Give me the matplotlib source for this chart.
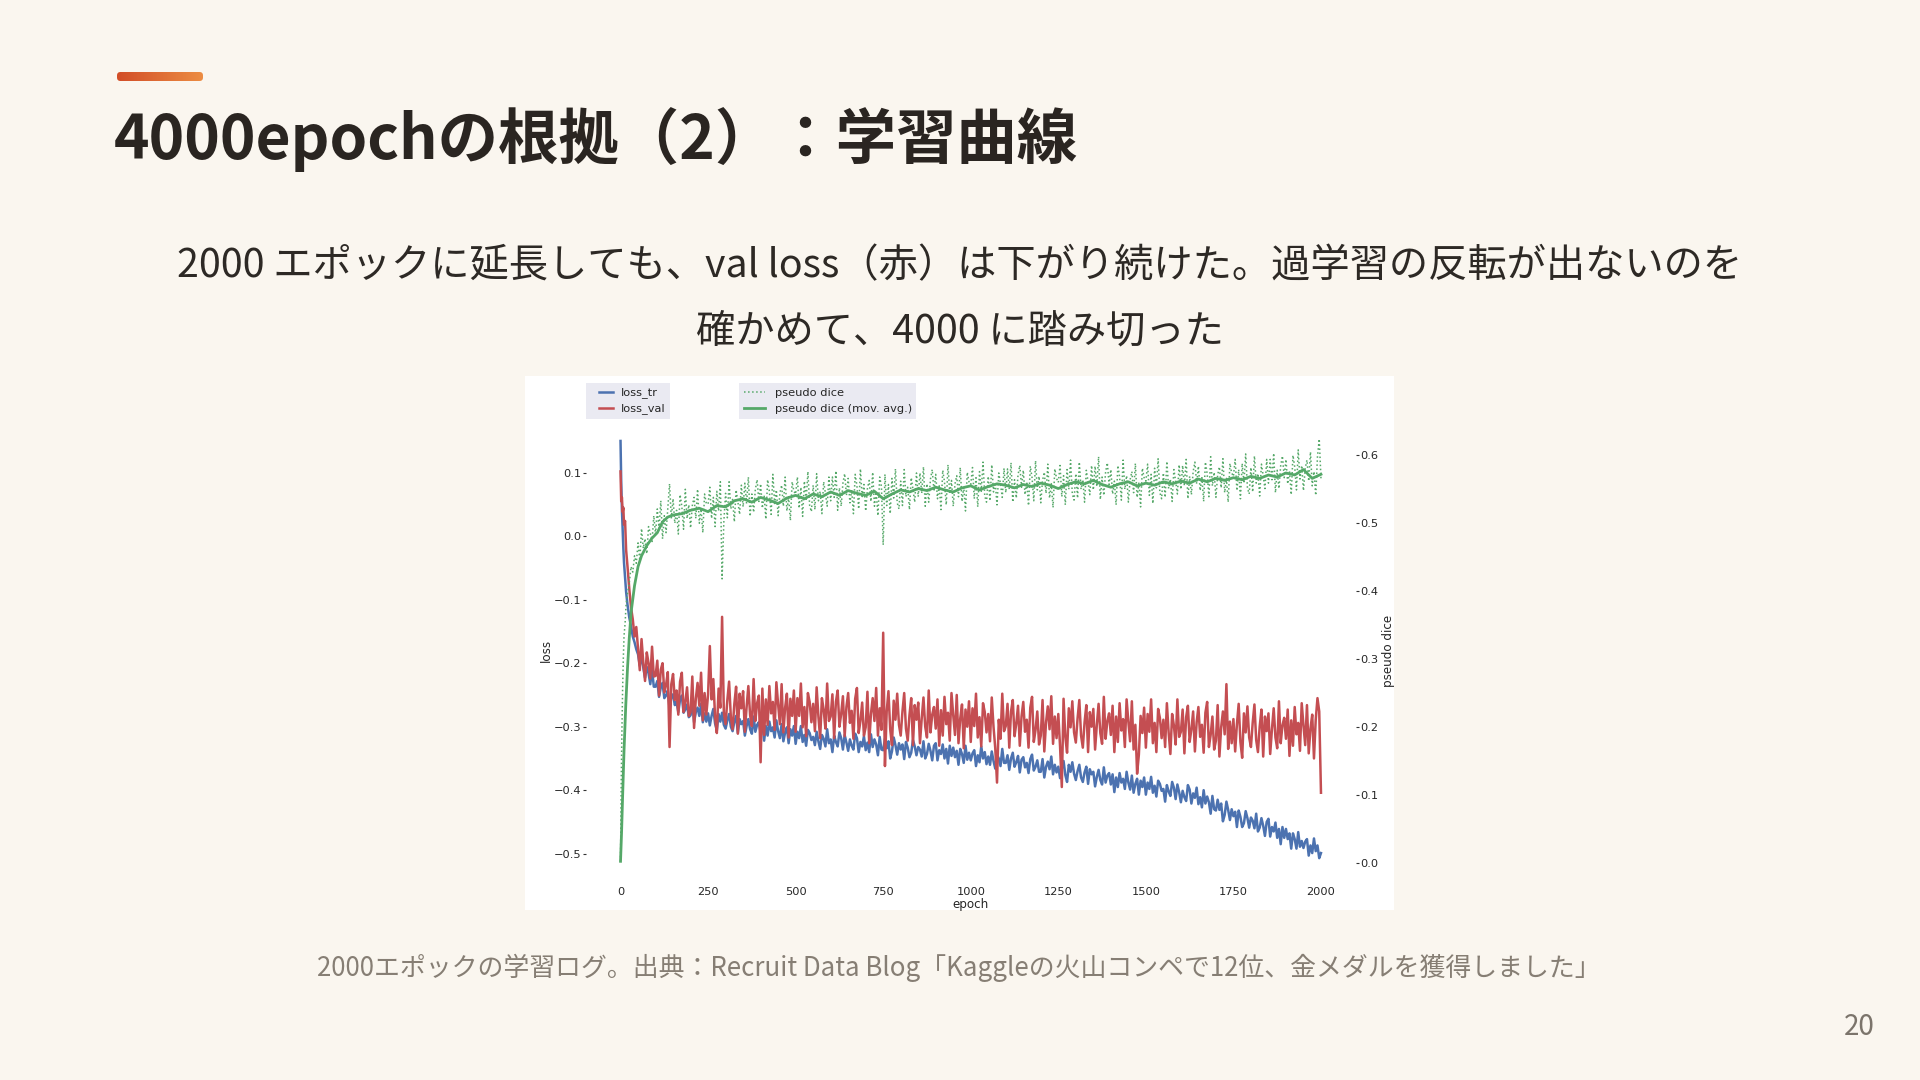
import matplotlib.pyplot as plt
from matplotlib.patches import Rectangle, FancyBboxPatch
from matplotlib.colors import LinearSegmentedColormap
import numpy as np

# ---- data (every 5 epochs after epoch 45) ----
epochs = [0, 2, 4, 6, 8, 10, 13, 16, 20, 25, 30, 35, 40, 45] + list(range(50, 2001, 5))

loss_tr = [
    0.150, 0.085, 0.042, 0.012, -0.018, -0.042, -0.066, -0.088, -0.108, -0.128, -0.142, -0.158, -0.167, -0.178,
    -0.186, -0.204, -0.187, -0.207, -0.223, -0.206, -0.216, -0.233, -0.210, -0.237,
    -0.237, -0.228, -0.253, -0.238, -0.231, -0.255, -0.251, -0.243, -0.271, -0.254,
    -0.249, -0.266, -0.261, -0.277, -0.257, -0.251, -0.278, -0.273, -0.265, -0.285,
    -0.282, -0.263, -0.293, -0.277, -0.270, -0.283, -0.264, -0.293, -0.279, -0.292,
    -0.279, -0.298, -0.283, -0.272, -0.295, -0.306, -0.280, -0.292, -0.278, -0.297,
    -0.303, -0.290, -0.280, -0.300, -0.307, -0.292, -0.283, -0.310, -0.288, -0.296,
    -0.291, -0.314, -0.299, -0.288, -0.304, -0.311, -0.284, -0.308, -0.297, -0.293,
    -0.310, -0.294, -0.322, -0.299, -0.314, -0.292, -0.307, -0.301, -0.317, -0.290,
    -0.307, -0.318, -0.296, -0.323, -0.309, -0.301, -0.326, -0.304, -0.314, -0.299,
    -0.327, -0.308, -0.318, -0.299, -0.324, -0.313, -0.330, -0.305, -0.310, -0.321,
    -0.316, -0.329, -0.308, -0.323, -0.335, -0.313, -0.319, -0.331, -0.304, -0.326,
    -0.320, -0.340, -0.314, -0.324, -0.331, -0.309, -0.318, -0.336, -0.313, -0.325,
    -0.338, -0.320, -0.330, -0.336, -0.311, -0.318, -0.340, -0.324, -0.331, -0.315,
    -0.337, -0.325, -0.340, -0.312, -0.332, -0.320, -0.328, -0.345, -0.316, -0.336,
    -0.337, -0.319, -0.334, -0.323, -0.350, -0.339, -0.317, -0.329, -0.344, -0.326,
    -0.336, -0.328, -0.351, -0.324, -0.333, -0.348, -0.341, -0.321, -0.331, -0.345,
    -0.332, -0.336, -0.347, -0.323, -0.350, -0.343, -0.327, -0.338, -0.353, -0.330,
    -0.326, -0.353, -0.337, -0.343, -0.328, -0.350, -0.335, -0.358, -0.330, -0.346,
    -0.333, -0.348, -0.338, -0.360, -0.335, -0.343, -0.357, -0.330, -0.352, -0.341,
    -0.353, -0.342, -0.337, -0.362, -0.345, -0.356, -0.331, -0.350, -0.340, -0.359,
    -0.347, -0.360, -0.339, -0.354, -0.366, -0.344, -0.350, -0.362, -0.335, -0.357,
    -0.357, -0.345, -0.368, -0.350, -0.341, -0.363, -0.356, -0.346, -0.372, -0.352,
    -0.348, -0.364, -0.357, -0.373, -0.351, -0.344, -0.369, -0.363, -0.353, -0.371,
    -0.371, -0.351, -0.380, -0.363, -0.355, -0.367, -0.347, -0.375, -0.360, -0.372,
    -0.363, -0.381, -0.366, -0.354, -0.376, -0.387, -0.360, -0.371, -0.356, -0.374,
    -0.384, -0.370, -0.360, -0.380, -0.387, -0.372, -0.363, -0.390, -0.367, -0.375,
    -0.371, -0.394, -0.379, -0.368, -0.384, -0.391, -0.364, -0.388, -0.377, -0.373,
    -0.391, -0.375, -0.403, -0.380, -0.395, -0.373, -0.388, -0.382, -0.398, -0.371,
    -0.388, -0.399, -0.377, -0.404, -0.390, -0.382, -0.407, -0.385, -0.395, -0.380,
    -0.407, -0.388, -0.398, -0.379, -0.404, -0.393, -0.410, -0.385, -0.390, -0.401,
    -0.398, -0.418, -0.392, -0.402, -0.409, -0.387, -0.396, -0.414, -0.391, -0.403,
    -0.419, -0.401, -0.411, -0.417, -0.392, -0.399, -0.421, -0.405, -0.412, -0.396,
    -0.422, -0.411, -0.427, -0.400, -0.421, -0.410, -0.419, -0.437, -0.409, -0.430,
    -0.432, -0.415, -0.431, -0.421, -0.449, -0.439, -0.418, -0.431, -0.447, -0.430,
    -0.441, -0.434, -0.458, -0.432, -0.442, -0.458, -0.452, -0.433, -0.444, -0.459,
    -0.443, -0.448, -0.460, -0.437, -0.465, -0.459, -0.444, -0.456, -0.472, -0.450,
    -0.445, -0.473, -0.458, -0.465, -0.451, -0.475, -0.461, -0.485, -0.458, -0.475,
    -0.461, -0.477, -0.468, -0.492, -0.468, -0.477, -0.492, -0.466, -0.489, -0.480,
    -0.491, -0.481, -0.477, -0.503, -0.487, -0.499, -0.476, -0.496, -0.487, -0.507,
    -0.499,
]

loss_val = [
    0.102, 0.055, 0.061, 0.038, 0.045, 0.018, 0.024, -0.022, -0.048, -0.083, -0.112, -0.131, -0.158, -0.143,
    -0.176, -0.211, -0.162, -0.199, -0.228, -0.183, -0.200, -0.224, -0.174, -0.221,
    -0.220, -0.196, -0.251, -0.210, -0.200, -0.246, -0.234, -0.214, -0.332, -0.233,
    -0.217, -0.258, -0.243, -0.281, -0.229, -0.215, -0.277, -0.261, -0.238, -0.283,
    -0.277, -0.221, -0.302, -0.256, -0.231, -0.267, -0.215, -0.290, -0.247, -0.281,
    -0.249, -0.173, -0.257, -0.225, -0.285, -0.310, -0.240, -0.270, -0.127, -0.278,
    -0.296, -0.258, -0.229, -0.285, -0.304, -0.264, -0.237, -0.311, -0.248, -0.271,
    -0.244, -0.308, -0.269, -0.236, -0.282, -0.299, -0.225, -0.291, -0.263, -0.251,
    -0.356, -0.240, -0.313, -0.257, -0.297, -0.236, -0.279, -0.261, -0.305, -0.230,
    -0.265, -0.296, -0.233, -0.309, -0.270, -0.248, -0.317, -0.256, -0.283, -0.243,
    -0.308, -0.255, -0.283, -0.232, -0.301, -0.269, -0.315, -0.247, -0.261, -0.293,
    -0.264, -0.307, -0.238, -0.284, -0.318, -0.255, -0.273, -0.303, -0.232, -0.291,
    -0.284, -0.249, -0.318, -0.261, -0.243, -0.300, -0.280, -0.252, -0.315, -0.269,
    -0.247, -0.294, -0.275, -0.319, -0.256, -0.239, -0.310, -0.291, -0.262, -0.314,
    -0.301, -0.245, -0.326, -0.280, -0.255, -0.291, -0.239, -0.314, -0.271, -0.305,
    -0.152, -0.362, -0.276, -0.244, -0.304, -0.329, -0.259, -0.289, -0.248, -0.297,
    -0.314, -0.276, -0.247, -0.303, -0.322, -0.282, -0.255, -0.329, -0.266, -0.289,
    -0.262, -0.326, -0.287, -0.254, -0.300, -0.317, -0.243, -0.309, -0.281, -0.269,
    -0.303, -0.257, -0.330, -0.274, -0.314, -0.253, -0.296, -0.278, -0.322, -0.247,
    -0.282, -0.313, -0.250, -0.326, -0.287, -0.265, -0.334, -0.273, -0.300, -0.260,
    -0.324, -0.271, -0.299, -0.248, -0.317, -0.285, -0.331, -0.263, -0.277, -0.309,
    -0.280, -0.323, -0.254, -0.300, -0.334, -0.388, -0.289, -0.319, -0.248, -0.307,
    -0.299, -0.264, -0.333, -0.276, -0.258, -0.315, -0.295, -0.267, -0.330, -0.284,
    -0.261, -0.308, -0.289, -0.333, -0.270, -0.253, -0.324, -0.305, -0.276, -0.328,
    -0.314, -0.258, -0.339, -0.293, -0.268, -0.304, -0.252, -0.327, -0.284, -0.318,
    -0.280, -0.331, -0.395, -0.256, -0.316, -0.341, -0.271, -0.301, -0.260, -0.309,
    -0.325, -0.287, -0.258, -0.314, -0.333, -0.293, -0.266, -0.340, -0.277, -0.300,
    -0.272, -0.336, -0.297, -0.264, -0.310, -0.327, -0.253, -0.319, -0.291, -0.279,
    -0.313, -0.267, -0.340, -0.284, -0.324, -0.263, -0.306, -0.288, -0.332, -0.257,
    -0.292, -0.323, -0.260, -0.336, -0.297, -0.374, -0.344, -0.283, -0.310, -0.270,
    -0.333, -0.280, -0.308, -0.257, -0.326, -0.294, -0.340, -0.272, -0.286, -0.318,
    -0.289, -0.332, -0.263, -0.309, -0.343, -0.280, -0.298, -0.328, -0.257, -0.316,
    -0.308, -0.273, -0.342, -0.285, -0.267, -0.324, -0.304, -0.276, -0.339, -0.293,
    -0.269, -0.316, -0.297, -0.341, -0.278, -0.261, -0.332, -0.313, -0.284, -0.336,
    -0.322, -0.266, -0.347, -0.301, -0.276, -0.312, -0.233, -0.335, -0.292, -0.326,
    -0.288, -0.339, -0.296, -0.264, -0.324, -0.349, -0.279, -0.309, -0.268, -0.317,
    -0.332, -0.294, -0.265, -0.321, -0.340, -0.300, -0.273, -0.347, -0.284, -0.307,
    -0.279, -0.343, -0.304, -0.271, -0.317, -0.334, -0.260, -0.326, -0.298, -0.286,
    -0.319, -0.273, -0.346, -0.290, -0.330, -0.269, -0.312, -0.294, -0.338, -0.263,
    -0.298, -0.329, -0.266, -0.342, -0.303, -0.281, -0.350, -0.289, -0.255, -0.276,
    -0.404,
]

pseudo_dice = [
    0.002, 0.118, 0.196, 0.257, 0.301, 0.334, 0.352, 0.381, 0.397, 0.412, 0.436, 0.428, 0.452, 0.441,
    0.471, 0.445, 0.492, 0.463, 0.477, 0.455, 0.495, 0.485, 0.473, 0.511,
    0.484, 0.521, 0.492, 0.533, 0.477, 0.511, 0.486, 0.522, 0.558, 0.507,
    0.536, 0.500, 0.519, 0.484, 0.542, 0.525, 0.491, 0.550, 0.507, 0.527,
    0.493, 0.526, 0.538, 0.507, 0.550, 0.500, 0.521, 0.486, 0.543, 0.529,
    0.528, 0.553, 0.507, 0.538, 0.495, 0.547, 0.518, 0.561, 0.418, 0.502,
    0.544, 0.508, 0.561, 0.521, 0.535, 0.502, 0.549, 0.532, 0.513, 0.556,
    0.524, 0.559, 0.529, 0.568, 0.510, 0.543, 0.516, 0.550, 0.564, 0.532,
    0.558, 0.522, 0.541, 0.506, 0.564, 0.547, 0.513, 0.572, 0.529, 0.549,
    0.511, 0.544, 0.556, 0.525, 0.568, 0.518, 0.539, 0.504, 0.561, 0.547,
    0.543, 0.568, 0.522, 0.553, 0.510, 0.562, 0.533, 0.576, 0.526, 0.517,
    0.556, 0.520, 0.573, 0.533, 0.547, 0.514, 0.561, 0.544, 0.525, 0.568,
    0.533, 0.568, 0.538, 0.577, 0.519, 0.552, 0.525, 0.559, 0.573, 0.541,
    0.566, 0.530, 0.549, 0.514, 0.572, 0.555, 0.521, 0.580, 0.537, 0.557,
    0.518, 0.551, 0.563, 0.532, 0.575, 0.525, 0.546, 0.511, 0.568, 0.554,
    0.468, 0.572, 0.526, 0.557, 0.514, 0.566, 0.537, 0.580, 0.530, 0.521,
    0.562, 0.526, 0.579, 0.539, 0.553, 0.520, 0.567, 0.550, 0.531, 0.574,
    0.539, 0.574, 0.544, 0.583, 0.525, 0.558, 0.531, 0.565, 0.579, 0.547,
    0.572, 0.536, 0.555, 0.520, 0.578, 0.561, 0.527, 0.586, 0.543, 0.563,
    0.525, 0.558, 0.570, 0.539, 0.582, 0.532, 0.553, 0.518, 0.575, 0.561,
    0.557, 0.582, 0.536, 0.567, 0.524, 0.576, 0.547, 0.590, 0.540, 0.531,
    0.569, 0.533, 0.586, 0.546, 0.560, 0.527, 0.574, 0.557, 0.538, 0.581,
    0.545, 0.580, 0.550, 0.589, 0.531, 0.564, 0.537, 0.571, 0.585, 0.553,
    0.578, 0.542, 0.561, 0.526, 0.584, 0.567, 0.533, 0.592, 0.549, 0.569,
    0.530, 0.563, 0.575, 0.544, 0.587, 0.537, 0.558, 0.523, 0.580, 0.566,
    0.560, 0.585, 0.539, 0.570, 0.527, 0.579, 0.550, 0.593, 0.543, 0.534,
    0.573, 0.537, 0.590, 0.550, 0.564, 0.531, 0.578, 0.561, 0.542, 0.585,
    0.549, 0.584, 0.554, 0.598, 0.535, 0.568, 0.541, 0.575, 0.589, 0.557,
    0.579, 0.543, 0.562, 0.527, 0.585, 0.568, 0.534, 0.593, 0.550, 0.570,
    0.531, 0.564, 0.576, 0.545, 0.588, 0.538, 0.559, 0.524, 0.581, 0.567,
    0.562, 0.587, 0.541, 0.572, 0.529, 0.581, 0.552, 0.595, 0.545, 0.536,
    0.574, 0.538, 0.591, 0.551, 0.565, 0.532, 0.579, 0.562, 0.543, 0.586,
    0.550, 0.585, 0.555, 0.594, 0.536, 0.569, 0.542, 0.576, 0.590, 0.558,
    0.584, 0.548, 0.567, 0.532, 0.590, 0.573, 0.539, 0.598, 0.555, 0.575,
    0.538, 0.571, 0.583, 0.552, 0.595, 0.545, 0.566, 0.531, 0.588, 0.574,
    0.569, 0.594, 0.548, 0.579, 0.536, 0.588, 0.559, 0.602, 0.552, 0.543,
    0.582, 0.546, 0.599, 0.559, 0.573, 0.540, 0.587, 0.570, 0.551, 0.594,
    0.559, 0.594, 0.564, 0.603, 0.545, 0.578, 0.551, 0.585, 0.599, 0.567,
    0.594, 0.558, 0.577, 0.542, 0.600, 0.583, 0.549, 0.608, 0.565, 0.585,
    0.548, 0.581, 0.593, 0.562, 0.605, 0.555, 0.576, 0.541, 0.598, 0.624,
    0.566,
]

mov_epochs = [0, 3, 6, 10, 15, 20, 25, 30, 40, 50, 60, 75, 90, 105, 120, 135, 150] + list(range(175, 2001, 25))
dice_mov_avg = [
    0.002, 0.045, 0.098, 0.165, 0.232, 0.287, 0.331, 0.368, 0.408, 0.436, 0.452, 0.467, 0.478, 0.486, 0.502, 0.509, 0.512,
    0.514, 0.519, 0.522, 0.517, 0.526, 0.524, 0.533, 0.536, 0.531, 0.538,
    0.534, 0.529, 0.537, 0.541, 0.536, 0.543, 0.539, 0.546, 0.541, 0.548,
    0.544, 0.541, 0.547, 0.536, 0.543, 0.549, 0.546, 0.551, 0.548, 0.553,
    0.549, 0.546, 0.552, 0.555, 0.549, 0.554, 0.558, 0.556, 0.552, 0.557,
    0.554, 0.559, 0.556, 0.551, 0.557, 0.561, 0.558, 0.563, 0.557, 0.553,
    0.558, 0.561, 0.555, 0.559, 0.556, 0.561, 0.558, 0.562, 0.559, 0.565,
    0.561, 0.566, 0.563, 0.567, 0.564, 0.569, 0.566, 0.571, 0.568, 0.574,
    0.571, 0.579, 0.566, 0.572,
]

x_ticks = [0, 250, 500, 750, 1000, 1250, 1500, 1750, 2000]
loss_ticks = [-0.5, -0.4, -0.3, -0.2, -0.1, 0.0, 0.1]
dice_ticks = [0.0, 0.1, 0.2, 0.3, 0.4, 0.5, 0.6]

title = "4000epochの根拠（2）：学習曲線"
sub1 = "2000 エポックに延長しても、val loss（赤）は下がり続けた。過学習の反転が出ないのを"
sub2 = "確かめて、4000 に踏み切った"
caption = "2000エポックの学習ログ。出典：Recruit Data Blog「Kaggleの火山コンペで12位、金メダルを獲得しました」"
page = "20"

W, H = 1920, 1080
JP = ['Noto Sans CJK JP', 'DejaVu Sans']
TXT = '#262626'


def fx(px):
    return px / W


def fy(py):
    return 1 - py / H


def main():
    plt.rcParams['font.family'] = ['DejaVu Sans']
    fig = plt.figure(figsize=(19.2, 10.8), dpi=100, facecolor='#faf6ef')

    # accent bar with orange gradient
    axb = fig.add_axes([fx(117), fy(81), fx(86), 9 / H])
    axb.set_xlim(0, 86)
    axb.set_ylim(0, 9)
    axb.axis('off')
    cmap = LinearSegmentedColormap.from_list('bar', ['#d24e28', '#ec8c42'])
    im = axb.imshow(np.linspace(0, 1, 64).reshape(1, -1), extent=(0, 86, 0, 9),
                    aspect='auto', cmap=cmap)
    clip = FancyBboxPatch((0, 0), 86, 9, boxstyle='round,pad=0,rounding_size=3.5',
                          transform=axb.transData, facecolor='none', edgecolor='none')
    axb.add_patch(clip)
    im.set_clip_path(clip)

    fig.text(fx(114), fy(159), title, fontsize=43.5, fontweight='bold', family=JP,
             color='#2a2521', ha='left', va='baseline')
    fig.text(0.5, fy(277), sub1, fontsize=28.3, family=JP, color='#2d2925',
             ha='center', va='baseline')
    fig.text(0.5, fy(342), sub2, fontsize=28.3, family=JP, color='#2d2925',
             ha='center', va='baseline')
    fig.text(fx(959), fy(976), caption, fontsize=18.65, family=JP, color='#867e74',
             ha='center', va='baseline')
    fig.text(fx(1859), fy(1035), page, fontsize=20, family=JP, color='#7b746b',
             ha='center', va='baseline')

    # white card behind the chart
    fig.patches.append(Rectangle((fx(525), fy(910)), fx(869), 534 / H,
                                 transform=fig.transFigure, facecolor='white',
                                 edgecolor='none', zorder=0))

    rect = [fx(585.5), fy(881), fx(770.5), 461 / H]
    dice_lim = (-0.027, 0.652)
    loss_lim = (-0.543, 0.183)

    # background axes: grey face + grid of the dice axis (kept under the curves)
    axg = fig.add_axes(rect, zorder=0)
    axg.set_facecolor('#eaeaf2')
    axg.set_xlim(-100, 2100)
    axg.set_ylim(*dice_lim)
    axg.set_yticks(dice_ticks)
    axg.set_xticks([])
    axg.grid(axis='y', color='white', linewidth=1.0)
    axg.tick_params(left=False, labelleft=False, bottom=False, labelbottom=False)
    for s in axg.spines.values():
        s.set_visible(False)

    ax = fig.add_axes(rect, zorder=1)
    ax.patch.set_visible(False)
    ax.set_axisbelow(True)
    ax.plot(epochs, loss_tr, color='#4c72b0', linewidth=1.8, label='loss_tr')
    ax.plot(epochs, loss_val, color='#c44e52', linewidth=1.8, label='loss_val')
    ax.set_xlim(-100, 2100)
    ax.set_ylim(*loss_lim)
    ax.set_xticks(x_ticks)
    ax.set_yticks(loss_ticks)
    ax.grid(True, color='white', linewidth=1.0)
    ax.tick_params(axis='y', length=2.2, width=0.8, color='#333333', pad=1,
                   labelsize=8.2, labelcolor=TXT)
    ax.tick_params(axis='x', length=0, pad=4.5, labelsize=8.2, labelcolor=TXT)
    ax.set_xlabel('epoch', fontsize=8.6, color=TXT, labelpad=0.5)
    ax.set_ylabel('loss', fontsize=8.6, color=TXT, labelpad=0.5)
    for s in ax.spines.values():
        s.set_visible(False)

    ax2 = ax.twinx()
    ax2.plot(epochs, pseudo_dice, color='#55a868', linestyle=':', linewidth=1.1,
             label='pseudo dice')
    ax2.plot(mov_epochs, dice_mov_avg, color='#55a868', linewidth=2.0,
             label='pseudo dice (mov. avg.)')
    ax2.set_ylim(*dice_lim)
    ax2.set_yticks(dice_ticks)
    ax2.grid(False)
    ax2.tick_params(axis='y', length=2.2, width=0.8, color='#333333', pad=1,
                    labelsize=8.2, labelcolor=TXT)
    ax2.set_ylabel('pseudo dice', fontsize=8.6, color=TXT, labelpad=2.5)
    for s in ax2.spines.values():
        s.set_visible(False)

    # legend boxes sit just above the plot area
    for x0, w in [(0.0, 0.1097), (0.1992, 0.2298)]:
        ax.add_patch(Rectangle((x0, 1.0022), w, 0.0781, transform=ax.transAxes,
                               facecolor='#eaeaf2', edgecolor='none', clip_on=False))
    leg_kw = dict(loc='center left', borderaxespad=0, borderpad=0, fontsize=8.2,
                  frameon=False, labelspacing=0.45, labelcolor=TXT)
    ax.legend(bbox_to_anchor=(0.0175, 1.0412), handlelength=1.2,
              handletextpad=0.73, **leg_kw)
    ax2.legend(bbox_to_anchor=(0.2057, 1.0412), handlelength=1.85,
               handletextpad=0.85, **leg_kw)

    fig.savefig('out.png', dpi=100, facecolor=fig.get_facecolor())


if __name__ == "__main__":
    main()
